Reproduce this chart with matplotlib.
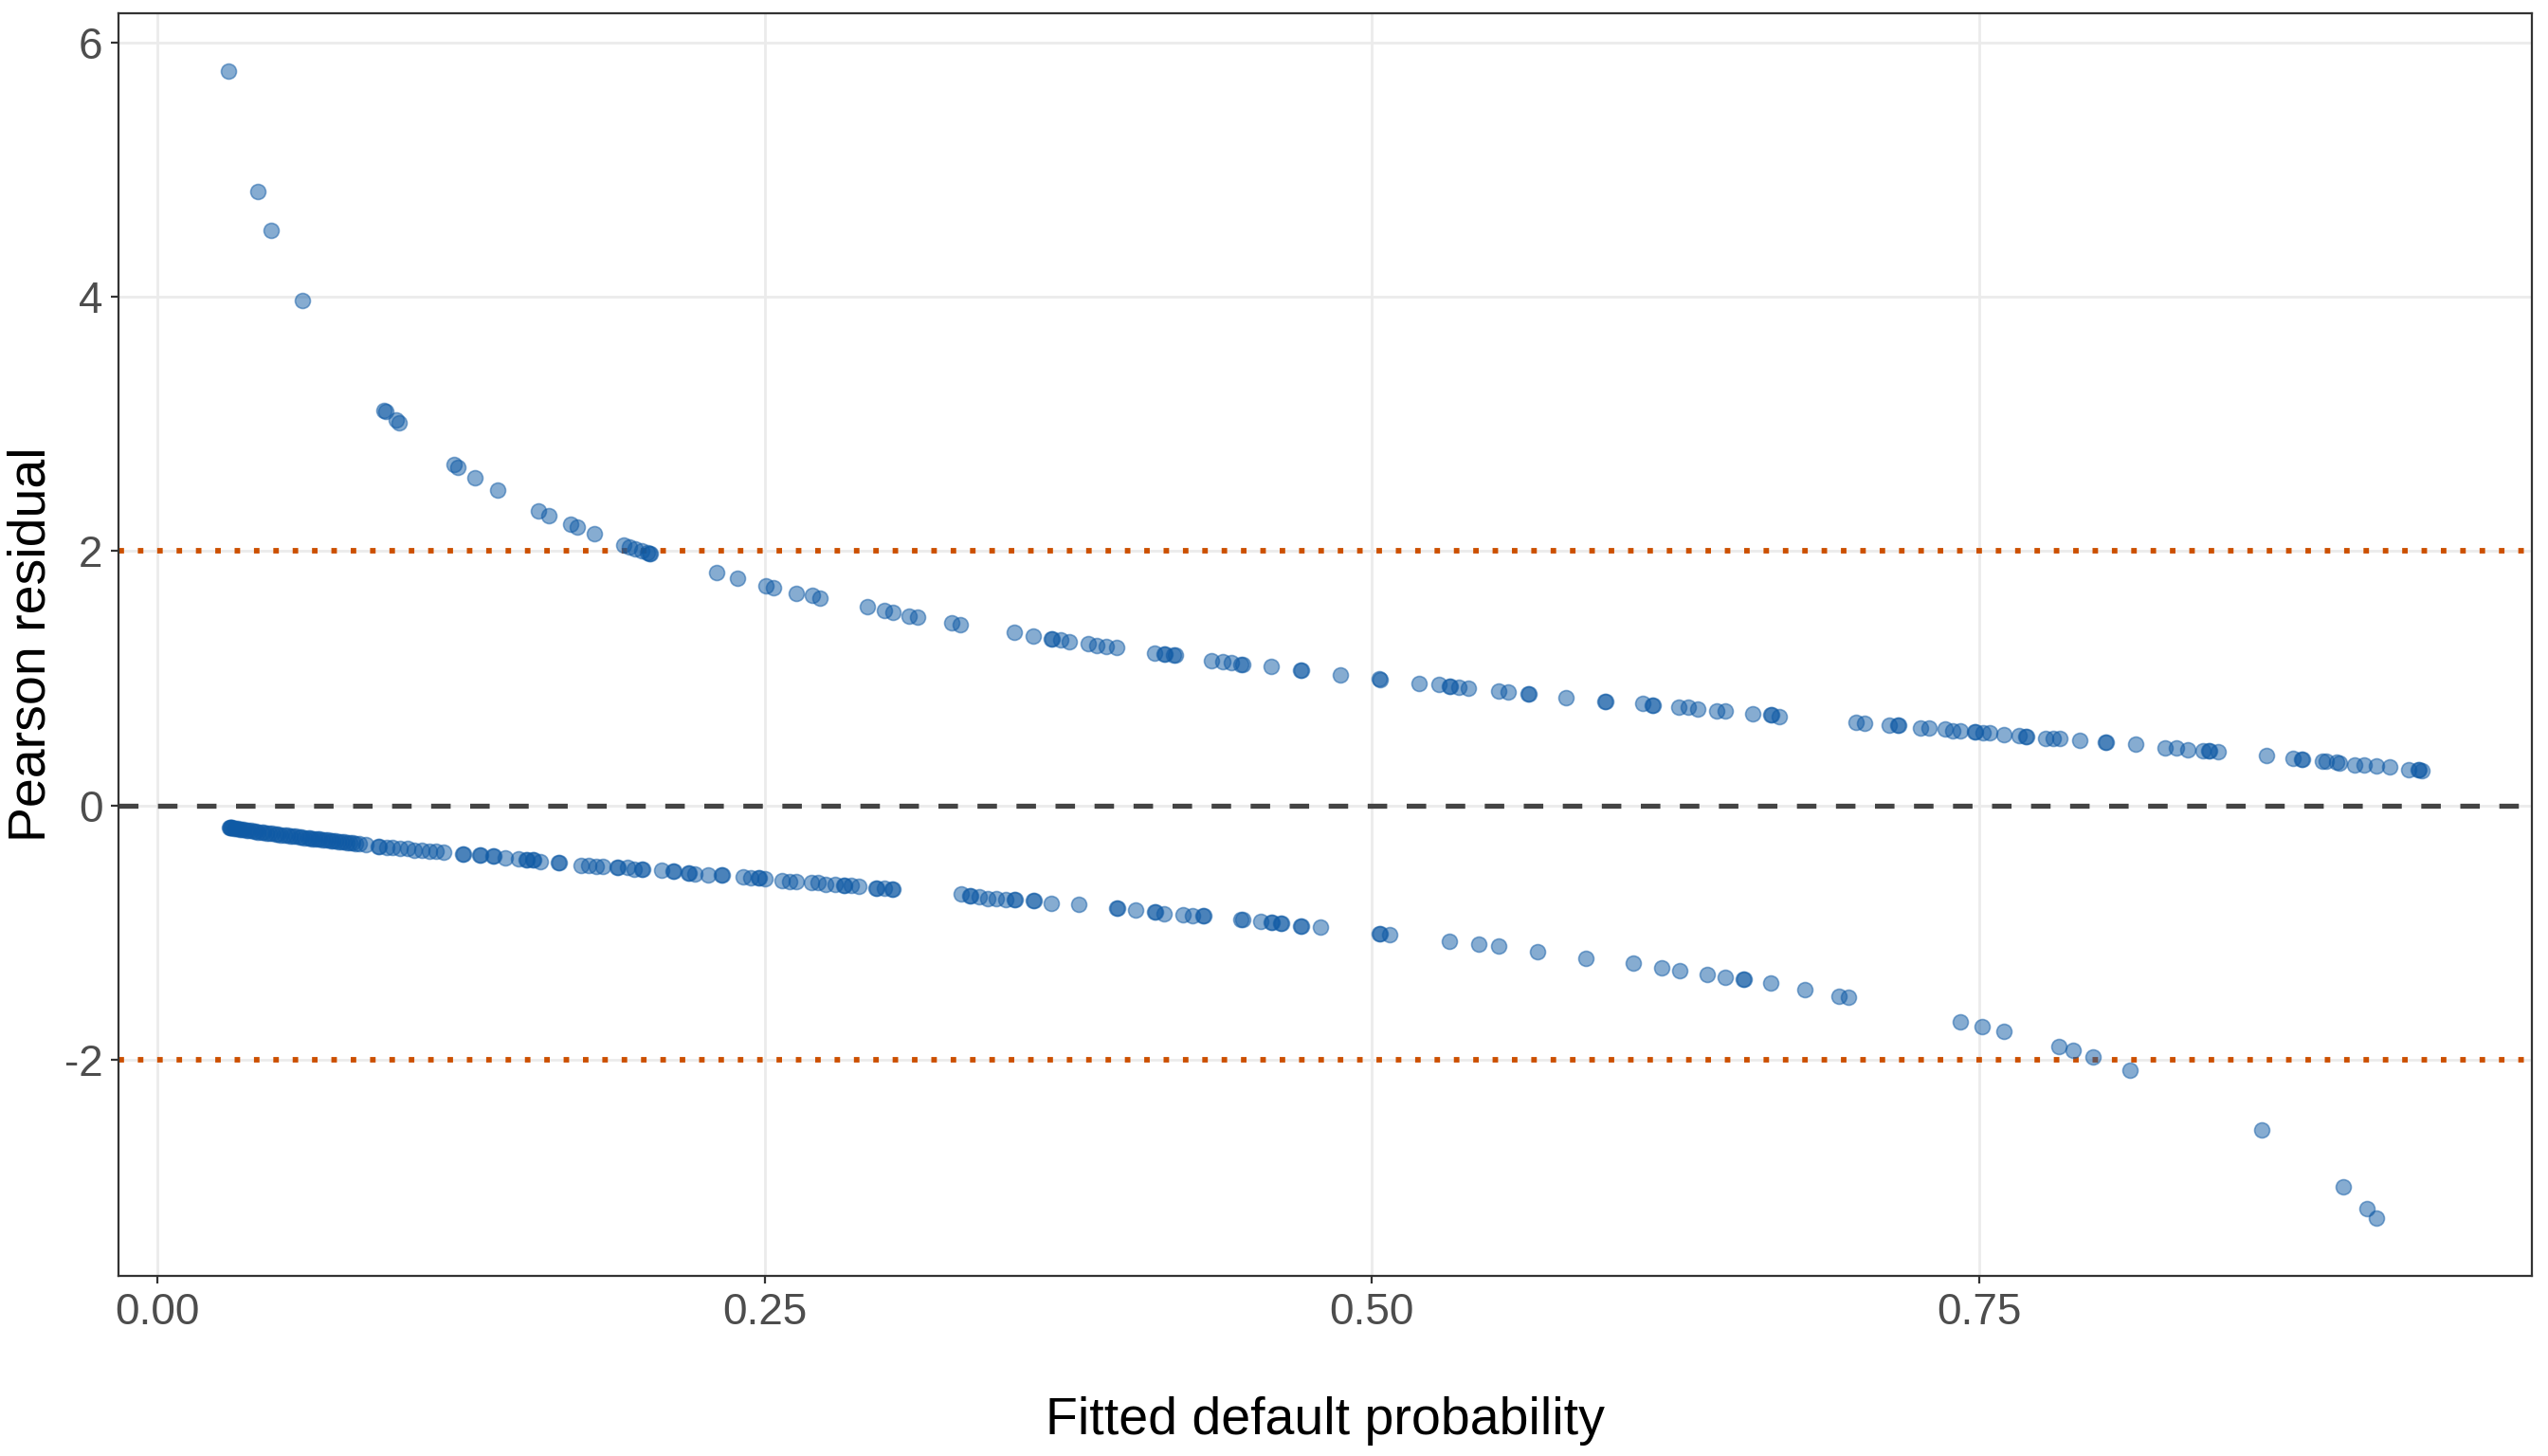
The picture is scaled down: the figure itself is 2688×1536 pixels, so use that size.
import matplotlib
matplotlib.use("Agg")
import matplotlib.pyplot as plt
import numpy as np

plt.rcParams['font.family'] = ['Liberation Sans', 'DejaVu Sans']

# observations with default = 1 (upper band): fitted probability, Pearson residual
upper_p = [0.0291, 0.0412, 0.0466, 0.0596, 0.0934, 0.0939, 0.0981, 0.0995,
           0.1219, 0.1237, 0.1308, 0.1402, 0.1568, 0.1613, 0.1700, 0.1727,
           0.1797, 0.1920, 0.1942, 0.1965, 0.1994, 0.2016, 0.2025, 0.2030,
           0.2301, 0.2386, 0.2505, 0.2538, 0.2630, 0.2695, 0.2726,
           0.2922, 0.2992, 0.3026, 0.3093, 0.3129, 0.3270, 0.3306,
           0.3528, 0.3604, 0.3678, 0.3685, 0.3718, 0.3754, 0.3830, 0.3868,
           0.3906, 0.3947, 0.4104, 0.4142, 0.4148, 0.4184, 0.4190,
           0.4341, 0.4384, 0.4422, 0.4462, 0.4468, 0.4585, 0.4706, 0.4710,
           0.4870, 0.5031, 0.5035, 0.5195, 0.5276, 0.5318, 0.5322, 0.5356,
           0.5397, 0.5520, 0.5560, 0.5641, 0.5645, 0.5800, 0.5957, 0.5961,
           0.6114, 0.6152, 0.6156, 0.6264, 0.6304, 0.6342, 0.6419, 0.6456,
           0.6568, 0.6641, 0.6645, 0.6676, 0.6993, 0.7028, 0.7131, 0.7164,
           0.7168, 0.7259, 0.7294, 0.7358, 0.7390, 0.7421, 0.7481, 0.7486,
           0.7514, 0.7544, 0.7603, 0.7663, 0.7692, 0.7696, 0.7773, 0.7804,
           0.7832, 0.7913, 0.8018, 0.8022, 0.8145, 0.8266, 0.8310, 0.8357,
           0.8422, 0.8443, 0.8447, 0.8485, 0.8684, 0.8791, 0.8826, 0.8830,
           0.8911, 0.8927, 0.8971, 0.8983, 0.9044, 0.9086, 0.9137, 0.9191,
           0.9268, 0.9308, 0.9312, 0.9324]
upper_r = [5.78, 4.83, 4.52, 3.97, 3.11, 3.10, 3.03, 3.01,
           2.68, 2.66, 2.58, 2.48, 2.32, 2.28, 2.21, 2.19,
           2.14, 2.05, 2.03, 2.02, 2.00, 1.99, 1.98, 1.98,
           1.83, 1.79, 1.73, 1.71, 1.67, 1.65, 1.63,
           1.56, 1.53, 1.52, 1.49, 1.48, 1.44, 1.42,
           1.36, 1.33, 1.31, 1.31, 1.30, 1.29, 1.27, 1.26,
           1.25, 1.24, 1.20, 1.19, 1.19, 1.18, 1.18,
           1.14, 1.13, 1.12, 1.11, 1.11, 1.09, 1.06, 1.06,
           1.03, 1.00, 0.99, 0.96, 0.95, 0.94, 0.94, 0.93,
           0.92, 0.90, 0.89, 0.88, 0.88, 0.85, 0.82, 0.82,
           0.80, 0.79, 0.79, 0.77, 0.77, 0.76, 0.745, 0.74,
           0.72, 0.71, 0.71, 0.70, 0.65, 0.645, 0.63, 0.63,
           0.63, 0.61, 0.605, 0.60, 0.59, 0.59, 0.58, 0.58,
           0.57, 0.57, 0.56, 0.55, 0.545, 0.545, 0.53, 0.53,
           0.525, 0.51, 0.50, 0.50, 0.48, 0.455, 0.45, 0.44,
           0.43, 0.43, 0.43, 0.42, 0.39, 0.37, 0.36, 0.36,
           0.35, 0.35, 0.34, 0.33, 0.32, 0.32, 0.31, 0.30,
           0.28, 0.28, 0.28, 0.27]

# observations with default = 0 (lower band)
lower_p = [0.0296, 0.0298, 0.0301, 0.0305, 0.0308, 0.0315, 0.0322, 0.0330,
           0.0338, 0.0347, 0.0355, 0.0366, 0.0374, 0.0385, 0.0396, 0.0404,
           0.0415, 0.0428, 0.0437, 0.0449, 0.0461, 0.0473, 0.0486, 0.0495,
           0.0508, 0.0521, 0.0535, 0.0547, 0.0556, 0.0569, 0.0583, 0.0594,
           0.0605, 0.0618, 0.0627, 0.0636, 0.0648, 0.0659, 0.0667, 0.0679,
           0.0690, 0.0701, 0.0713, 0.0722, 0.0734, 0.0746, 0.0758, 0.0769,
           0.0781, 0.0793, 0.0804, 0.0816,
           0.0829, 0.0859, 0.0908, 0.0912, 0.0942, 0.0968, 0.0998, 0.1028,
           0.1058, 0.1088, 0.1118, 0.1147, 0.1177, 0.1257, 0.1261, 0.1327,
           0.1331, 0.1382, 0.1386, 0.1432, 0.1486, 0.1516, 0.1520, 0.1546,
           0.1550, 0.1576, 0.1651, 0.1655, 0.1745, 0.1775, 0.1805, 0.1835,
           0.1894, 0.1898, 0.1934, 0.1964, 0.1994, 0.1998, 0.2074, 0.2124,
           0.2128, 0.2183, 0.2187, 0.2213, 0.2267, 0.2323, 0.2327, 0.2412,
           0.2442, 0.2472, 0.2476, 0.2502, 0.2572, 0.2602, 0.2631, 0.2691,
           0.2721, 0.2751, 0.2791, 0.2825, 0.2829, 0.2857, 0.2889, 0.2956,
           0.2960, 0.2992, 0.3023, 0.3027,
           0.3308, 0.3344, 0.3348, 0.3382, 0.3420, 0.3454, 0.3492, 0.3528,
           0.3532, 0.3604, 0.3608, 0.3678, 0.3794, 0.3947, 0.3951, 0.4025,
           0.4104, 0.4108, 0.4144, 0.4222, 0.4260, 0.4303, 0.4307, 0.4462,
           0.4466, 0.4543, 0.4583, 0.4587, 0.4623, 0.4627, 0.4706, 0.4710,
           0.4787, 0.5031, 0.5035, 0.5072, 0.5318, 0.5439, 0.5520, 0.5681,
           0.5879, 0.6076, 0.6192, 0.6268, 0.6381, 0.6456, 0.6528, 0.6532,
           0.6641, 0.6783, 0.6923, 0.6961, 0.7421, 0.7512, 0.7603, 0.7829,
           0.7885, 0.7967, 0.8121, 0.8665, 0.8999, 0.9097, 0.9137]
lower_r = [-0.175, -0.175, -0.176, -0.177, -0.178, -0.181, -0.183, -0.185,
           -0.188, -0.190, -0.192, -0.195, -0.197, -0.200, -0.203, -0.206,
           -0.208, -0.212, -0.214, -0.217, -0.220, -0.222, -0.226, -0.228,
           -0.231, -0.234, -0.237, -0.240, -0.242, -0.245, -0.248, -0.251,
           -0.254, -0.257, -0.259, -0.261, -0.263, -0.265, -0.267, -0.270,
           -0.272, -0.274, -0.277, -0.279, -0.281, -0.284, -0.286, -0.289,
           -0.291, -0.293, -0.295, -0.298,
           -0.30, -0.31, -0.32, -0.32, -0.33, -0.33, -0.34, -0.34,
           -0.35, -0.35, -0.36, -0.36, -0.37, -0.38, -0.38, -0.39,
           -0.39, -0.40, -0.40, -0.41, -0.42, -0.43, -0.43, -0.43,
           -0.43, -0.44, -0.45, -0.45, -0.47, -0.47, -0.48, -0.48,
           -0.49, -0.49, -0.49, -0.50, -0.50, -0.50, -0.51, -0.52,
           -0.52, -0.53, -0.53, -0.54, -0.55, -0.55, -0.55, -0.56,
           -0.57, -0.57, -0.57, -0.58, -0.59, -0.60, -0.60, -0.61,
           -0.61, -0.62, -0.62, -0.63, -0.63, -0.63, -0.64, -0.65,
           -0.65, -0.655, -0.66, -0.66,
           -0.70, -0.71, -0.71, -0.72, -0.73, -0.73, -0.74, -0.74,
           -0.74, -0.75, -0.75, -0.77, -0.78, -0.81, -0.81, -0.82,
           -0.84, -0.84, -0.85, -0.86, -0.87, -0.87, -0.87, -0.90,
           -0.90, -0.91, -0.92, -0.92, -0.93, -0.93, -0.95, -0.95,
           -0.96, -1.01, -1.01, -1.02, -1.07, -1.09, -1.11, -1.15,
           -1.20, -1.24, -1.28, -1.30, -1.33, -1.35, -1.37, -1.37,
           -1.40, -1.45, -1.50, -1.51, -1.70, -1.74, -1.78, -1.90,
           -1.93, -1.98, -2.08, -2.55, -3.00, -3.17, -3.25]

x_ticks = [0.0, 0.25, 0.5, 0.75]
x_ticklabels = ["0.00", "0.25", "0.50", "0.75"]
y_ticks = [-2, 0, 2, 4, 6]
y_ticklabels = ["-2", "0", "2", "4", "6"]

p = np.array(upper_p + lower_p)
r = np.array(upper_r + lower_r)

fig = plt.figure(figsize=(13.44, 7.68), dpi=200)
ax = fig.add_axes([0.0465, 0.1237, 0.9472, 0.8672])

ax.axhline(0, color='#444444', lw=1.9, linestyle=(0, (3.9, 3.9)),
           dash_capstyle='butt', zorder=2)
for h in (-2, 2):
    ax.axhline(h, color='#CC5000', lw=2.1, linestyle=(0, (1, 2.5)),
               dash_capstyle='butt', zorder=2)

ax.scatter(p, r, s=33, c='#0f5aa5', alpha=0.5, edgecolors='#0f5aa5',
           linewidths=0.6, zorder=3)

pad_x = 0.05 * (p.max() - p.min())
pad_y = 0.05 * (r.max() - r.min())
ax.set_xlim(p.min() - pad_x, p.max() + pad_x)
ax.set_ylim(r.min() - pad_y, r.max() + pad_y)

ax.set_xticks(x_ticks)
ax.set_xticklabels(x_ticklabels)
ax.set_yticks(y_ticks)
ax.set_yticklabels(y_ticklabels)

ax.grid(True, color='#EBEBEB', lw=1.0)
ax.set_axisbelow(True)
for s in ax.spines.values():
    s.set_color('#333333')
    s.set_linewidth(0.8)
ax.tick_params(length=3, width=0.8, color='#333333', labelsize=16.5,
               labelcolor='#4D4D4D', pad=3)

ax.set_xlabel("Fitted default probability", fontsize=20, labelpad=24)
ax.set_ylabel("Pearson residual", fontsize=20, labelpad=3)

fig.savefig("out.png", dpi=200)
